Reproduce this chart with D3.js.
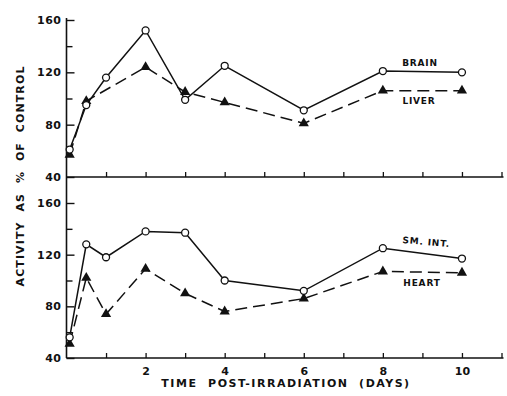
<!DOCTYPE html>
<html>
<head>
<meta charset="utf-8">
<script src="https://cdn.jsdelivr.net/npm/d3@7"></script>
<style>
  body { margin: 0; background: #fff; }
  text { font-family: "DejaVu Sans", sans-serif; font-weight: bold; fill: #111; white-space: pre; }
</style>
</head>
<body>
<div class="canva"></div>
<script>
// days after irradiation
const days = [0.08, 0.5, 1, 2, 3, 4, 6, 8, 10];
const daysBrain = [0.08, 0.5, 1, 2, 3, 4, 6, 8, 10];
const daysLiver = [0.08, 0.5, 2, 3, 4, 6, 8, 10];

// activity as % of control
const brain = [61, 95, 116, 152, 99, 125, 91, 121, 120];
const liver = [57, 98, 124, 105, 97, 81, 106, 106];
const smInt = [56, 128, 118, 138, 137, 100, 92, 125, 117];
const heart = [51, 102, 74, 109, 90, 76, 86, 107, 106];

const yTicksMajor = [40, 80, 120, 160];
const yTicksMinor = [60, 100, 140];
const xTicks = [1, 2, 3, 4, 5, 6, 7, 8, 9, 10, 11];
const xLabels = [2, 4, 6, 8, 10];

const width = 507, height = 396;
const svg = d3.select(".canva").append("svg")
    .attr("width", width)
    .attr("height", height);

const x = d3.scaleLinear().domain([0, 11]).range([66.5, 501.5]);
const yTop = d3.scaleLinear().domain([40, 160]).range([177, 20]);
const yBot = d3.scaleLinear().domain([40, 160]).range([358, 203]);

// y-axis line through both panels
svg.append("line")
    .attr("x1", x(0)).attr("x2", x(0))
    .attr("y1", yTop(160) - 2).attr("y2", yBot(40))
    .attr("stroke", "#111").attr("stroke-width", 1.6);

function drawPanel(y, showXLabels) {
    const g = svg.append("g");

    // major y ticks with labels
    const yAxis = d3.axisLeft(y)
        .tickValues(yTicksMajor)
        .tickSizeInner(-8)
        .tickSizeOuter(0)
        .tickPadding(5);
    const ya = g.append("g")
        .attr("transform", `translate(${x(0)},0)`)
        .call(yAxis);
    ya.select(".domain").remove();
    ya.selectAll("line").attr("stroke", "#111").attr("stroke-width", 1.4);
    ya.selectAll("text")
        .attr("font-size", "11px")
        .attr("font-family", "DejaVu Sans")
        .attr("font-weight", "bold")
        .attr("letter-spacing", "0.5px")
        .attr("fill", "#111");

    // minor y ticks
    const ym = g.append("g")
        .attr("transform", `translate(${x(0)},0)`)
        .call(d3.axisLeft(y).tickValues(yTicksMinor).tickSizeInner(-6).tickSizeOuter(0).tickFormat(""));
    ym.select(".domain").remove();
    ym.selectAll("line").attr("stroke", "#111").attr("stroke-width", 1.4);

    // x axis
    const xAxis = d3.axisBottom(x)
        .tickValues(xTicks)
        .tickSizeInner(-5)
        .tickSizeOuter(0)
        .tickPadding(9)
        .tickFormat(d => (showXLabels && xLabels.includes(d)) ? d : "");
    const xa = g.append("g")
        .attr("transform", `translate(0,${y(40)})`)
        .call(xAxis);
    xa.select(".domain")
        .attr("d", `M${x(0)},0H${x(11) + 2}`)
        .attr("stroke", "#111").attr("stroke-width", 1.6);
    xa.selectAll("line").attr("stroke", "#111").attr("stroke-width", 1.3);
    xa.selectAll("text")
        .attr("font-size", "11px")
        .attr("font-family", "DejaVu Sans")
        .attr("font-weight", "bold")
        .attr("fill", "#111");
    return g;
}

function drawSeries(g, y, xs, vals, dashed, marker) {
    const data = xs.map((d, i) => ({ day: d, v: vals[i] }));
    const line = d3.line().x(d => x(d.day)).y(d => y(d.v));
    g.append("path")
        .datum(data)
        .attr("d", line)
        .attr("fill", "none")
        .attr("stroke", "#111")
        .attr("stroke-width", 1.5)
        .attr("stroke-dasharray", dashed ? "12,6" : null);

    if (marker === "circle") {
        g.selectAll(null)
            .data(data)
            .enter()
            .append("circle")
            .attr("cx", d => x(d.day))
            .attr("cy", d => y(d.v))
            .attr("r", 3.5)
            .attr("fill", "#fff")
            .attr("stroke", "#111")
            .attr("stroke-width", 1.3);
    } else {
        g.selectAll(null)
            .data(data)
            .enter()
            .append("path")
            .attr("transform", d => `translate(${x(d.day)},${y(d.v)})`)
            .attr("d", d3.symbol(d3.symbolTriangle, 45))
            .attr("fill", "#111");
    }
}

const topPanel = drawPanel(yTop, false);
drawSeries(topPanel, yTop, daysLiver, liver, true, "triangle");
drawSeries(topPanel, yTop, daysBrain, brain, false, "circle");

const botPanel = drawPanel(yBot, true);
drawSeries(botPanel, yBot, days, heart, true, "triangle");
drawSeries(botPanel, yBot, days, smInt, false, "circle");

// series labels
const lab = (t, xx, yy, rot) => svg.append("text")
    .attr("x", xx).attr("y", yy)
    .attr("text-anchor", "middle")
    .attr("font-size", "9px")
    .attr("letter-spacing", "0.8px")
    .attr("transform", rot ? `rotate(${rot},${xx},${yy})` : null)
    .text(t);
lab("BRAIN", 420, 66);
lab("LIVER", 419, 104);
lab("SM. INT.", 426, 245, 5);
lab("HEART", 422, 286);

// axis titles
svg.append("text")
    .attr("x", 286)
    .attr("y", 387)
    .attr("text-anchor", "middle")
    .attr("font-size", "11px")
    .attr("letter-spacing", "1.5px")
    .text("TIME  POST-IRRADIATION  (DAYS)");

svg.append("text")
    .attr("transform", "translate(24,176) rotate(-90)")
    .attr("text-anchor", "middle")
    .attr("font-size", "11px")
    .attr("letter-spacing", "1.1px")
    .text("ACTIVITY  AS  %  OF  CONTROL");
</script>
</body>
</html>
